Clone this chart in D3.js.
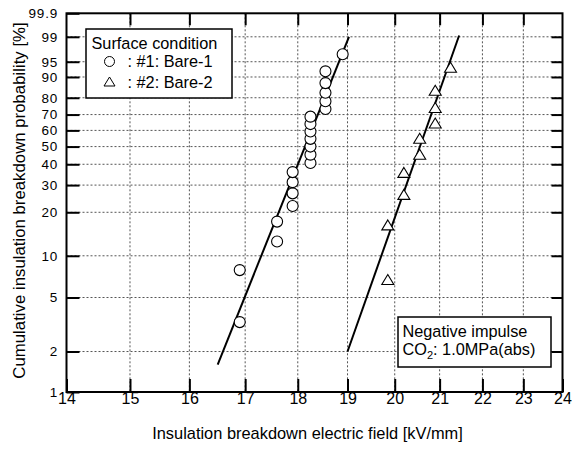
<!DOCTYPE html>
<meta charset="utf-8">
<style>
    html, body {
        margin: 0;
        padding: 0;
        background: #fff;
    }
    svg {
        font-family: "Liberation Sans", Arial, sans-serif;
    }
    .grid line {
        stroke: #555;
        stroke-width: 1;
        stroke-dasharray: 2, 2;
    }
</style>
<svg id="chart" width="572" height="450"></svg>
<script src="https://d3js.org/d3.v7.js"></script>
<script>
    // values
    let fieldTicks = [14, 15, 16, 17, 18, 19, 20, 21, 22, 23, 24];
    let probTicks = [1, 2, 5, 10, 20, 30, 40, 50, 60, 70, 80, 90, 95, 99, 99.9];

    // #1: Bare-1 (circles)
    let bare1Field = [16.9, 16.9, 17.6, 17.6, 17.9, 17.9, 17.9, 17.9, 18.25, 18.25, 18.25,
        18.25, 18.25, 18.25, 18.25, 18.55, 18.55, 18.55, 18.55, 18.55, 18.9];
    let bare1Prob = [3.3, 7.9, 12.6, 17.3, 22.0, 26.6, 31.3, 36.0, 40.7, 45.3, 50.0,
        54.7, 59.3, 64.0, 68.7, 73.4, 78.0, 82.7, 87.4, 92.1, 96.7];

    // #2: Bare-2 (triangles)
    let bare2Field = [19.85, 19.85, 20.2, 20.2, 20.55, 20.55, 20.9, 20.9, 20.9, 21.25];
    let bare2Prob = [6.7, 16.3, 26.0, 35.6, 45.2, 54.8, 64.4, 74.0, 83.7, 93.3];

    // fitted Weibull lines (end points)
    let fit1 = [[16.5, 1.6], [19.03, 99.0]];
    let fit2 = [[19.0, 2.0], [21.45, 99.1]];

    let svg = d3.select("#chart");
    let plot = {left: 66.5, right: 562.5, top: 13.3, bottom: 392};

    // Weibull probability transform
    let wb = p => Math.log(-Math.log(1 - p / 100));

    let x = d3.scaleLog().domain([14, 24]).range([plot.left, plot.right]);
    let yW = d3.scaleLinear().domain([wb(1), wb(99.9)]).range([plot.bottom, plot.top]);
    let y = p => yW(wb(p));

    // grid
    let grid = svg.append("g").attr("class", "grid");
    grid.selectAll(".v").data(fieldTicks.slice(1, -1)).enter().append("line")
        .attr("x1", d => x(d)).attr("x2", d => x(d))
        .attr("y1", plot.top).attr("y2", plot.bottom);
    grid.selectAll(".h").data(probTicks.slice(1, -1)).enter().append("line")
        .attr("x1", plot.left).attr("x2", plot.right)
        .attr("y1", d => y(d)).attr("y2", d => y(d));

    // axes with inward ticks
    let yAxis = d3.axisLeft(yW)
        .tickValues(probTicks.map(wb))
        .tickFormat((d, i) => probTicks[i])
        .tickSizeInner(-13).tickSizeOuter(0);
    let xAxis = d3.axisBottom(x)
        .tickValues(fieldTicks)
        .tickFormat(d3.format("d"))
        .tickSizeInner(-13).tickSizeOuter(0).tickPadding(1);
    let topAxis = d3.axisTop(x)
        .tickValues(fieldTicks.slice(1, -1))
        .tickFormat("").tickSizeInner(-12).tickSizeOuter(0);
    let rightAxis = d3.axisRight(yW)
        .tickValues(probTicks.slice(1, -1).map(wb))
        .tickFormat("").tickSizeInner(-11).tickSizeOuter(0);

    function style(g) {
        g.select(".domain").remove();
        g.selectAll(".tick line").attr("stroke", "#000").attr("stroke-width", 2);
        g.selectAll("text").attr("fill", "#000").attr("font-size", 16)
            .attr("font-family", "Liberation Sans, Arial, sans-serif");
    }

    // y labels are tightly packed near the top: a smaller, slightly spaced font
    svg.append("g").attr("transform", `translate(${plot.left},0)`).call(yAxis).call(style)
        .selectAll("text").attr("x", -8.5).attr("text-anchor", "end")
        .attr("font-size", 13.5).attr("letter-spacing", 0.8);
    svg.append("g").attr("transform", `translate(0,${plot.bottom})`).call(xAxis).call(style);
    svg.append("g").attr("transform", `translate(0,${plot.top})`).call(topAxis).call(style);
    svg.append("g").attr("transform", `translate(${plot.right},0)`).call(rightAxis).call(style);

    // frame
    svg.append("rect")
        .attr("x", plot.left).attr("y", plot.top)
        .attr("width", plot.right - plot.left).attr("height", plot.bottom - plot.top)
        .attr("fill", "none").attr("stroke", "#000").attr("stroke-width", 2);

    // fit lines
    let line = d3.line().x(d => x(d[0])).y(d => y(d[1]));
    svg.selectAll(".fit").data([fit1, fit2]).enter().append("path")
        .attr("d", line)
        .attr("fill", "none").attr("stroke", "#000").attr("stroke-width", 2);

    // markers
    let bare1 = bare1Field.map((f, i) => ({f: f, p: bare1Prob[i]}));
    let bare2 = bare2Field.map((f, i) => ({f: f, p: bare2Prob[i]}));

    svg.selectAll(".c").data(bare1).enter().append("circle")
        .attr("cx", d => x(d.f)).attr("cy", d => y(d.p)).attr("r", 5.5)
        .attr("fill", "#fff").attr("stroke", "#000").attr("stroke-width", 1.1);

    let tri = "M0,-5.5L6,4.5L-6,4.5Z";
    svg.selectAll(".t").data(bare2).enter().append("path")
        .attr("d", tri)
        .attr("transform", d => `translate(${x(d.f)},${y(d.p)})`)
        .attr("fill", "#fff").attr("stroke", "#000").attr("stroke-width", 1.1);

    // legend
    let lg = svg.append("g").attr("font-size", 16.3);
    lg.append("rect").attr("x", 86).attr("y", 29).attr("width", 146).attr("height", 69)
        .attr("fill", "#fff").attr("stroke", "#000").attr("stroke-width", 1.5);
    lg.append("text").attr("x", 91.5).attr("y", 48.5).text("Surface condition");
    lg.append("circle").attr("cx", 109.5).attr("cy", 61.5).attr("r", 5)
        .attr("fill", "#fff").attr("stroke", "#000").attr("stroke-width", 1);
    lg.append("text").attr("x", 127.5).attr("y", 67).text(": #1: Bare-1");
    lg.append("path").attr("d", "M0,-5L5.5,4L-5.5,4Z").attr("transform", "translate(109.5,82)")
        .attr("fill", "#fff").attr("stroke", "#000").attr("stroke-width", 1);
    lg.append("text").attr("x", 127.5).attr("y", 87.5).text(": #2: Bare-2");

    // condition note
    let nt = svg.append("g").attr("font-size", 16.3);
    nt.append("rect").attr("x", 398).attr("y", 317).attr("width", 153).attr("height", 50)
        .attr("fill", "#fff").attr("stroke", "#000").attr("stroke-width", 1.5);
    nt.append("text").attr("x", 402.5).attr("y", 336.5).text("Negative impulse");
    let co = nt.append("text").attr("x", 402.5).attr("y", 355);
    co.append("tspan").text("CO");
    co.append("tspan").attr("font-size", 11).attr("dy", 4).text("2");
    co.append("tspan").attr("dy", -4).text(": 1.0MPa(abs)");

    // axis titles
    svg.append("text")
        .attr("x", 307.5).attr("y", 439)
        .attr("text-anchor", "middle").attr("font-size", 16.4)
        .text("Insulation breakdown electric field [kV/mm]");
    svg.append("text")
        .attr("transform", "translate(24.5,200.5) rotate(-90)")
        .attr("text-anchor", "middle").attr("font-size", 16.8)
        .text("Cumulative insulation breakdown probability [%]");
</script>
